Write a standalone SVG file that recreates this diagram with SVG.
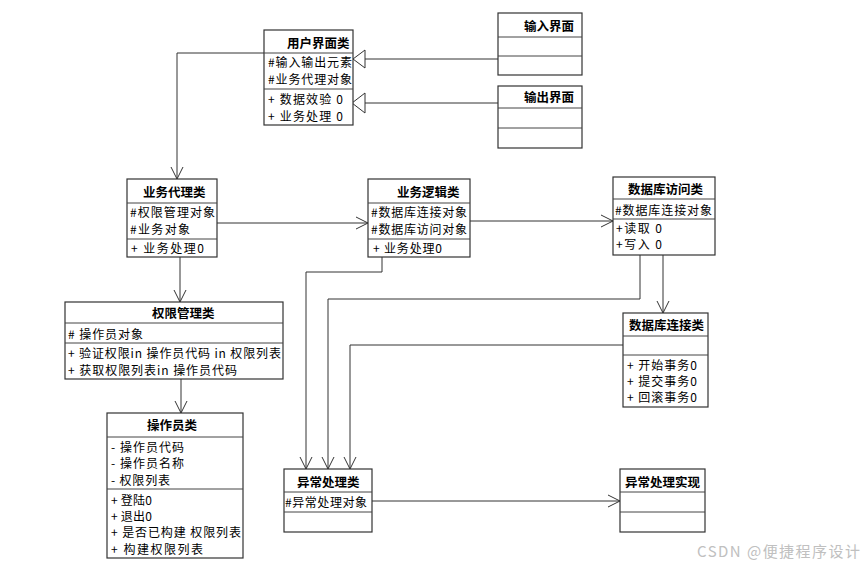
<svg xmlns="http://www.w3.org/2000/svg" width="865" height="567" viewBox="0 0 865 567">
<defs>
<marker id="open" markerWidth="14" markerHeight="14" refX="12" refY="6" orient="auto" markerUnits="userSpaceOnUse" viewBox="0 0 14 12">
<path d="M0,0 L12,6 L0,12" fill="none" stroke="#333" stroke-width="1"/>
</marker>
</defs>
<style>
rect.b{fill:#fff;stroke:#333;stroke-width:1.2}
line.s{stroke:#444;stroke-width:1}
text{font-family:"Noto Sans CJK SC","Liberation Sans",sans-serif;font-size:12px;fill:#000}
text.t{font-weight:bold;font-size:12.5px}
.c{fill:none;stroke:#333;stroke-width:1}
</style>
<rect width="865" height="567" fill="#fff"/>

<g id="connectors">
<polyline class="c" points="264,53 177,53 177,179" marker-end="url(#open)"/>
<line class="c" x1="498" y1="59" x2="365" y2="59"/>
<polygon points="353,59 365,50 365,68" fill="#fff" stroke="#333"/>
<line class="c" x1="498" y1="103" x2="365" y2="103"/>
<polygon points="352,103 365,93 365,113" fill="#fff" stroke="#333"/>
<line class="c" x1="217" y1="223" x2="368" y2="223" marker-end="url(#open)"/>
<line class="c" x1="470" y1="221" x2="613" y2="221" marker-end="url(#open)"/>
<line class="c" x1="180" y1="257" x2="180" y2="302" marker-end="url(#open)"/>
<line class="c" x1="181" y1="379" x2="181" y2="413" marker-end="url(#open)"/>
<line class="c" x1="663" y1="255" x2="663" y2="313" marker-end="url(#open)"/>
<polyline class="c" points="382,257 382,272 306,272 306,469" marker-end="url(#open)"/>
<polyline class="c" points="640,255 640,299 328,299 328,469" marker-end="url(#open)"/>
<polyline class="c" points="623,345 350,345 350,469" marker-end="url(#open)"/>
<line class="c" x1="372" y1="501" x2="620" y2="501" marker-end="url(#open)"/>
</g>

<g id="ui">
<rect class="b" x="264" y="30" width="89" height="95"/>
<line class="s" x1="264" y1="53" x2="353" y2="53"/>
<line class="s" x1="264" y1="89" x2="353" y2="89"/>
<text class="t" x="287" y="48">用户界面类</text>
<text x="268" y="67" textLength="84">#输入输出元素</text>
<text x="268" y="84" textLength="84">#业务代理对象</text>
<text x="268" y="104" textLength="75">+ 数据效验 0</text>
<text x="268" y="121" textLength="75">+ 业务处理 0</text>
</g>

<g id="input">
<rect class="b" x="498" y="13" width="84" height="62"/>
<line class="s" x1="498" y1="37" x2="582" y2="37"/>
<line class="s" x1="498" y1="56" x2="582" y2="56"/>
<text class="t" x="524" y="31">输入界面</text>
</g>

<g id="output">
<rect class="b" x="498" y="86" width="84" height="62"/>
<line class="s" x1="498" y1="108" x2="582" y2="108"/>
<line class="s" x1="498" y1="128" x2="582" y2="128"/>
<text class="t" x="524" y="102">输出界面</text>
</g>

<g id="proxy">
<rect class="b" x="127" y="179" width="90" height="78"/>
<line class="s" x1="127" y1="203" x2="217" y2="203"/>
<line class="s" x1="127" y1="239" x2="217" y2="239"/>
<text class="t" x="143" y="197">业务代理类</text>
<text x="130" y="217" textLength="85">#权限管理对象</text>
<text x="130" y="234" textLength="60">#业务对象</text>
<text x="131" y="253" textLength="73">+ 业务处理0</text>
</g>

<g id="logic">
<rect class="b" x="368" y="179" width="102" height="78"/>
<line class="s" x1="368" y1="203" x2="470" y2="203"/>
<line class="s" x1="368" y1="239" x2="470" y2="239"/>
<text class="t" x="397" y="197">业务逻辑类</text>
<text x="371" y="217" textLength="96">#数据库连接对象</text>
<text x="371" y="234" textLength="96">#数据库访问对象</text>
<text x="373" y="253" textLength="69">+ 业务处理0</text>
</g>

<g id="dbaccess">
<rect class="b" x="613" y="177" width="102" height="78"/>
<line class="s" x1="613" y1="199" x2="715" y2="199"/>
<line class="s" x1="613" y1="219" x2="715" y2="219"/>
<text class="t" x="628" y="194">数据库访问类</text>
<text x="615" y="215" textLength="97">#数据库连接对象</text>
<text x="616" y="233" textLength="46">+读取 0</text>
<text x="616" y="249" textLength="46">+写入 0</text>
</g>

<g id="permission">
<rect class="b" x="65" y="302" width="218" height="77"/>
<line class="s" x1="65" y1="323" x2="283" y2="323"/>
<line class="s" x1="65" y1="343" x2="283" y2="343"/>
<text class="t" x="152" y="318">权限管理类</text>
<text x="68" y="339" textLength="75"># 操作员对象</text>
<text x="68" y="358" textLength="213">+ 验证权限in 操作员代码 in 权限列表</text>
<text x="68" y="375" textLength="169">+ 获取权限列表in 操作员代码</text>
</g>

<g id="operator">
<rect class="b" x="107" y="413" width="136" height="145"/>
<line class="s" x1="107" y1="437" x2="243" y2="437"/>
<line class="s" x1="107" y1="489" x2="243" y2="489"/>
<text class="t" x="147" y="430">操作员类</text>
<text x="111" y="452" textLength="73">- 操作员代码</text>
<text x="111" y="468" textLength="73">- 操作员名称</text>
<text x="111" y="485" textLength="59">- 权限列表</text>
<text x="111" y="505" textLength="41">+ 登陆0</text>
<text x="111" y="521" textLength="41">+ 退出0</text>
<text x="111" y="537" textLength="130">+  是否已构建 权限列表</text>
<text x="111" y="554" textLength="92">+ 构建权限列表</text>
</g>

<g id="dbconn">
<rect class="b" x="623" y="313" width="85" height="94"/>
<line class="s" x1="623" y1="336" x2="708" y2="336"/>
<line class="s" x1="623" y1="355" x2="708" y2="355"/>
<text class="t" x="629" y="330">数据库连接类</text>
<text x="627" y="370" textLength="70">+ 开始事务0</text>
<text x="627" y="386" textLength="70">+ 提交事务0</text>
<text x="627" y="402" textLength="70">+ 回滚事务0</text>
</g>

<g id="exception">
<rect class="b" x="284" y="469" width="88" height="63"/>
<line class="s" x1="284" y1="492" x2="372" y2="492"/>
<line class="s" x1="284" y1="512" x2="372" y2="512"/>
<text class="t" x="297" y="487">异常处理类</text>
<text x="285" y="507" textLength="82">#异常处理对象</text>
</g>

<g id="exceptionimpl">
<rect class="b" x="620" y="469" width="85" height="63"/>
<line class="s" x1="620" y1="492" x2="705" y2="492"/>
<line class="s" x1="620" y1="512" x2="705" y2="512"/>
<text class="t" x="625" y="487">异常处理实现</text>
</g>

<text x="697" y="557" textLength="163" style="font-size:15px;fill:#c0c0c0">CSDN @便捷程序设计</text>
</svg>
